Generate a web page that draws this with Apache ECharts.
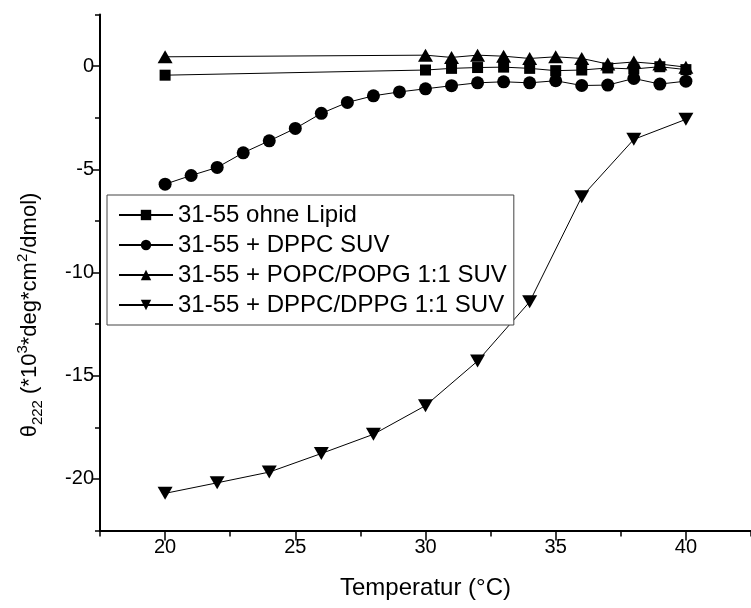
<!DOCTYPE html>
<html>
<head>
<meta charset="utf-8">
<script src="https://cdn.jsdelivr.net/npm/echarts@6/dist/echarts.min.js"></script>
<style>html,body{margin:0;padding:0;background:#fff}#c{width:751px;height:608px}</style>
</head>
<body>
<div id="c"></div>
<script>
// ---- data ----
const seriesNames = ['31-55 ohne Lipid', '31-55 + DPPC SUV', '31-55 + POPC/POPG 1:1 SUV', '31-55 + DPPC/DPPG 1:1 SUV'];

const xOhne = [20, 30, 31, 32, 33, 34, 35, 36, 37, 38, 39, 40];
const yOhne = [-0.44, -0.19, -0.11, -0.07, -0.05, -0.11, -0.22, -0.19, -0.09, -0.14, -0.03, -0.17];

const xDPPC = [20, 21, 22, 23, 24, 25, 26, 27, 28, 29, 30, 31, 32, 33, 34, 35, 36, 37, 38, 39, 40];
const yDPPC = [-5.72, -5.30, -4.91, -4.20, -3.62, -3.02, -2.29, -1.76, -1.44, -1.25, -1.10, -0.95, -0.81, -0.76, -0.81, -0.71, -0.94, -0.92, -0.60, -0.87, -0.73];

const xPOPC = [20, 30, 31, 32, 33, 34, 35, 36, 37, 38, 39, 40];
const yPOPC = [0.45, 0.53, 0.42, 0.53, 0.48, 0.37, 0.45, 0.37, 0.10, 0.20, 0.10, -0.05];

const xDPPG = [20, 22, 24, 26, 28, 30, 32, 34, 36, 38, 40];
const yDPPG = [-20.70, -20.19, -19.67, -18.77, -17.84, -16.45, -14.29, -11.42, -6.33, -3.55, -2.58];

const xMajorTicks = [20, 25, 30, 35, 40];
const xMinorTicks = [17.5, 22.5, 27.5, 32.5, 37.5, 42.5];
const yMajorTicks = [-20, -15, -10, -5, 0];
const yMinorTicks = [-22.5, -17.5, -12.5, -7.5, -2.5, 2.5];

// ---- chart ----
const zip = (xs, ys) => xs.map((x, i) => [x, ys[i]]);
const FONT = '"Liberation Sans", Arial, sans-serif';
const chart = echarts.init(document.getElementById('c'), null, {renderer: 'canvas'});

const commonX = {type: 'value', min: 17.5, max: 42.5, splitLine: {show: false}};
const commonY = {type: 'value', min: -22.5, max: 2.5, splitLine: {show: false}};

function mkSeries(name, data, symbol, size, rot) {
  return {
    name: name, type: 'line', data: data, symbol: symbol, symbolSize: size, symbolRotate: rot || 0,
    showAllSymbol: true, animation: false,
    lineStyle: {color: '#000', width: 1},
    itemStyle: {color: '#000'}
  };
}

chart.setOption({
  backgroundColor: '#fff',
  animation: false,
  grid: {left: 100, top: 14.5, width: 660, height: 516, containLabel: false},
  xAxis: [
    Object.assign({}, commonX, {
      position: 'bottom',
      name: 'Temperatur (°C)', nameLocation: 'middle', nameGap: 46,
      nameTextStyle: {fontFamily: FONT, fontSize: 24, color: '#000'},
      axisLine: {show: true, onZero: false, lineStyle: {color: '#000', width: 2}},
      axisTick: {show: true, inside: false, length: 10, customValues: xMajorTicks, lineStyle: {color: '#000', width: 1.5}},
      axisLabel: {show: true, customValues: xMajorTicks, margin: 7, fontFamily: FONT, fontSize: 20, color: '#000'}
    }),
    Object.assign({}, commonX, {
      position: 'bottom',
      axisLine: {show: false, onZero: false},
      axisTick: {show: true, inside: false, length: 6, customValues: xMinorTicks, lineStyle: {color: '#000', width: 1.5}},
      axisLabel: {show: false}
    })
  ],
  yAxis: [
    Object.assign({}, commonY, {
      position: 'left',
      axisLine: {show: true, onZero: false, lineStyle: {color: '#000', width: 2}},
      axisTick: {show: true, inside: false, length: 8, customValues: yMajorTicks, lineStyle: {color: '#000', width: 1.5}},
      axisLabel: {show: true, customValues: yMajorTicks, margin: 6, fontFamily: FONT, fontSize: 20, color: '#000'}
    }),
    Object.assign({}, commonY, {
      position: 'left',
      axisLine: {show: false, onZero: false},
      axisTick: {show: true, inside: false, length: 5, customValues: yMinorTicks, lineStyle: {color: '#000', width: 1.5}},
      axisLabel: {show: false}
    })
  ],
  legend: {
    orient: 'vertical', left: 107, top: 195,
    padding: [7, 7, 7, 11],
    itemGap: 4, itemWidth: 54, itemHeight: 13,
    borderColor: '#444', borderWidth: 1, backgroundColor: '#fff',
    textStyle: {fontFamily: FONT, fontSize: 24, lineHeight: 26, color: '#000'},
    data: seriesNames
  },
  graphic: [{
    type: 'text', x: 30, y: 315, rotation: Math.PI / 2,
    style: {
      text: '{t|θ}{sub|222}{t| (*10}{sup|3}{t|*deg*cm}{sup|2}{t|/dmol)}',
      align: 'center', verticalAlign: 'middle',
      fill: '#000',
      rich: {
        t: {fontFamily: FONT, fontSize: 22, lineHeight: 30, fill: '#000', verticalAlign: 'middle'},
        sub: {fontFamily: FONT, fontSize: 15, lineHeight: 30, fill: '#000', verticalAlign: 'bottom', padding: [0, 0, 0, 0]},
        sup: {fontFamily: FONT, fontSize: 15, lineHeight: 30, fill: '#000', verticalAlign: 'top'}
      }
    }
  }],
  series: [
    mkSeries(seriesNames[0], zip(xOhne, yOhne), 'rect', 11),
    mkSeries(seriesNames[1], zip(xDPPC, yDPPC), 'circle', 13),
    mkSeries(seriesNames[2], zip(xPOPC, yPOPC), 'triangle', [15, 13]),
    mkSeries(seriesNames[3], zip(xDPPG, yDPPG), 'triangle', [15, 13], 180)
  ]
});
</script>
</body>
</html>
